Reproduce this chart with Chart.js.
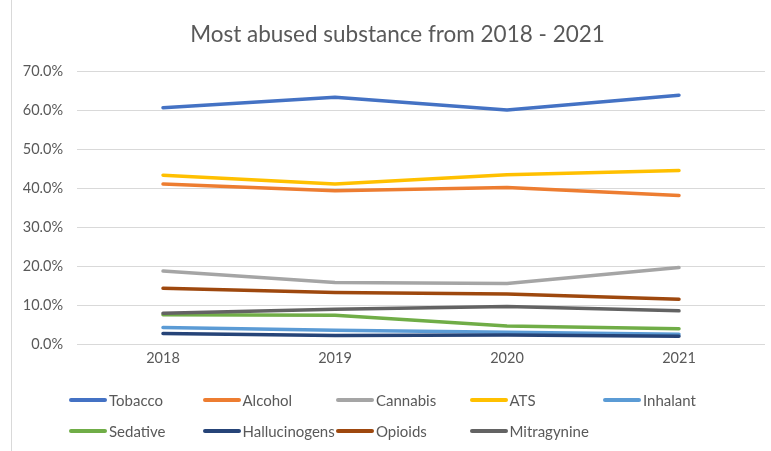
<!DOCTYPE html>
<html>
<head>
<meta charset="utf-8">
<script src="https://cdn.jsdelivr.net/npm/chart.js@4"></script>
<style>
    body { margin: 0; width: 771px; height: 451px; overflow: hidden; background: #fff; }
    #frame { position: absolute; left: 11px; top: 0; width: 771px; height: 451px; border-left: 1px solid #d9d9d9; }
    #chartBox { position: absolute; left: 0; top: 0; width: 771px; height: 451px; }
    #title { position: absolute; left: 0; top: 20px; width: 771px; text-align: center; font-family: Lato, sans-serif; font-size: 22.5px; line-height: 27px; color: #595959; }
    #legend { position: absolute; left: 0; top: 0; font-family: Lato, sans-serif; font-size: 15px; color: #595959; }
    .item { position: absolute; display: flex; align-items: center; white-space: nowrap; height: 20px; }
    .swatch { width: 38px; height: 4px; border-radius: 2px; margin-right: 2px; }
</style>
</head>
<body>
<div id="frame">
    <div id="chartBox"><canvas id="substanceChart"></canvas></div>
    <div id="title">Most abused substance from 2018 - 2021</div>
    <div id="legend"></div>
</div>
<script>
const years = ['2018', '2019', '2020', '2021'];

const tobacco = [60.6, 63.3, 60.0, 63.8];
const alcohol = [41.0, 39.3, 40.1, 38.1];
const cannabis = [18.7, 15.8, 15.5, 19.6];
const ats = [43.3, 41.0, 43.4, 44.5];
const inhalant = [4.2, 3.5, 3.0, 2.5];
const sedative = [7.5, 7.4, 4.6, 3.9];
const hallucinogens = [2.7, 2.2, 2.3, 2.0];
const opioids = [14.3, 13.2, 12.8, 11.5];
const mitragynine = [7.9, 8.9, 9.6, 8.5];

const seriesNames = ['Tobacco', 'Alcohol', 'Cannabis', 'ATS', 'Inhalant', 'Sedative', 'Hallucinogens', 'Opioids', 'Mitragynine'];
const seriesValues = [tobacco, alcohol, cannabis, ats, inhalant, sedative, hallucinogens, opioids, mitragynine];
const colors = ['#4472C4', '#ED7D31', '#A5A5A5', '#FFC000', '#5B9BD5', '#70AD47', '#264478', '#9E480E', '#636363'];

const fontFamily = 'Lato, sans-serif';
const textColor = '#595959';

// later series sit on top, like in the spreadsheet
const datasets = seriesNames.map((name, i) => ({
    label: name,
    data: seriesValues[i],
    borderColor: colors[i],
    backgroundColor: colors[i],
    borderWidth: 3.5,
    borderCapStyle: 'round',
    borderJoinStyle: 'round',
    pointRadius: 0,
    tension: 0,
    order: seriesNames.length - 1 - i,
}));

new Chart(document.getElementById('substanceChart'), {
    type: 'line',
    data: { labels: years, datasets: datasets },
    options: {
        responsive: true,
        maintainAspectRatio: false,
        animation: false,
        layout: { padding: { left: 0, right: 18, top: 71, bottom: 77 } },
        plugins: {
            legend: { display: false },
            tooltip: { enabled: false },
            title: { display: false },
        },
        scales: {
            x: {
                offset: true,
                grid: { display: false, drawTicks: false },
                border: { display: false },
                ticks: { color: textColor, font: { family: fontFamily, size: 14.5 }, padding: 6 },
                afterFit: s => { s.height = 30; },
            },
            y: {
                min: 0,
                max: 70,
                grid: { color: '#d9d9d9', lineWidth: 1, drawTicks: false },
                border: { display: false },
                ticks: {
                    stepSize: 10,
                    color: textColor,
                    font: { family: fontFamily, size: 14.5 },
                    padding: 14,
                    callback: v => v.toFixed(1) + '%',
                },
                afterFit: s => { s.width = 65; },
            },
        },
    },
});

// legend laid out in fixed columns like the original
const legend = document.getElementById('legend');
seriesNames.forEach((name, i) => {
    const item = document.createElement('div');
    item.className = 'item';
    item.style.left = (57 + (i % 5) * 133.5) + 'px';
    item.style.top = (390 + Math.floor(i / 5) * 31) + 'px';
    item.innerHTML = '<span class="swatch" style="background:' + colors[i] + '"></span>' + name;
    legend.appendChild(item);
});
</script>
</body>
</html>
